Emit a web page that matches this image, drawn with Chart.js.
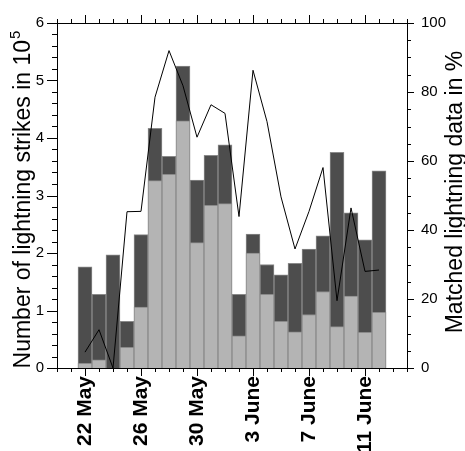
<!DOCTYPE html>
<html>
<head>
<meta charset="utf-8">
<title>Lightning strikes</title>
<script src="https://cdn.jsdelivr.net/npm/chart.js@4/dist/chart.umd.min.js"></script>
<style>
  html, body { margin: 0; padding: 0; background: #fff; }
  canvas { display: block; }
</style>
</head>
<body>
<canvas id="lightningChart" width="465" height="451"></canvas>
<script>
// --- DATA ---
// days counted from 1 May (32 = 1 June)
const days = [22, 23, 24, 25, 26, 27, 28, 29, 30, 31, 32, 33, 34, 35, 36, 37, 38, 39, 40, 41, 42, 43];
// all strikes, in 10^5
const totalStrikes = [1.76, 1.28, 1.97, 0.81, 2.32, 4.17, 3.68, 5.25, 3.27, 3.70, 3.88,
                      1.28, 2.33, 1.80, 1.62, 1.82, 2.07, 2.30, 3.75, 2.70, 2.23, 3.43];
// matched strikes, in 10^5
const matchedStrikes = [0.08, 0.14, 0.00, 0.36, 1.06, 3.26, 3.37, 4.30, 2.18, 2.83, 2.86,
                        0.56, 2.00, 1.28, 0.81, 0.63, 0.93, 1.33, 0.72, 1.25, 0.62, 0.97];
// matched share in %
const matchedPercent = [4.6, 11.1, 0.0, 45.3, 45.4, 78.5, 92.0, 81.8, 66.9, 76.3, 73.8,
                        43.9, 86.3, 71.4, 49.6, 34.5, 45.4, 58.1, 19.5, 46.4, 28.0, 28.4];
const labelledDays = [22, 26, 30, 34, 38, 42];

const FONT = "'Liberation Sans', Arial, Helvetica, sans-serif";

function dayLabel(d) {
    return d <= 31 ? d + ' May' : (d - 31) + ' June';
}

const pts = (arr) => days.map((d, i) => ({ x: d, y: arr[i] }));

// minor/major tick marks on all four sides + top frame line + axis titles
const frameTicks = {
    id: 'frameTicks',
    afterDraw(chart) {
        const { ctx, chartArea: a, scales } = chart;
        const px = (v) => Math.round(v) + 0.5;
        ctx.save();
        ctx.strokeStyle = '#000';
        ctx.lineWidth = 1;

        // top frame line
        ctx.beginPath();
        ctx.moveTo(a.left, px(a.top));
        ctx.lineTo(a.right, px(a.top));
        ctx.stroke();

        ctx.beginPath();
        // x ticks, bottom and top (outward)
        for (let d = scales.x.min; d <= scales.x.max; d++) {
            const x = px(scales.x.getPixelForValue(d));
            const len = labelledDays.includes(d) ? 8 : 4;
            ctx.moveTo(x, a.bottom); ctx.lineTo(x, a.bottom + len);
            ctx.moveTo(x, a.top); ctx.lineTo(x, a.top - len);
        }
        // left y ticks
        for (let k = 0; k <= 30; k++) {
            const y = px(scales.y.getPixelForValue(k * 0.2));
            const len = k % 5 === 0 ? 10 : 5;
            ctx.moveTo(a.left, y); ctx.lineTo(a.left - len, y);
        }
        // right y ticks
        for (let v = 0; v <= 100; v += 5) {
            const y = px(scales.y2.getPixelForValue(v));
            const len = v % 20 === 0 ? 7 : 4;
            ctx.moveTo(a.right, y); ctx.lineTo(a.right + len, y);
        }
        ctx.stroke();

        // axis titles, both reading bottom to top
        ctx.fillStyle = '#000';
        ctx.textBaseline = 'alphabetic';
        const mainFont = '23px ' + FONT;
        const supFont = '15px ' + FONT;

        // left
        ctx.font = mainFont;
        const leftMain = 'Number of lightning strikes in 10';
        const wMain = ctx.measureText(leftMain).width;
        ctx.font = supFont;
        const wSup = ctx.measureText('5').width;
        ctx.save();
        ctx.translate(29.5, 200);
        ctx.rotate(-Math.PI / 2);
        ctx.textAlign = 'left';
        ctx.font = mainFont;
        const start = -(wMain + wSup) / 2;
        ctx.fillText(leftMain, start, 0);
        ctx.font = supFont;
        ctx.fillText('5', start + wMain + 1, -10);
        ctx.restore();

        // right
        ctx.save();
        ctx.translate(462, 192);
        ctx.rotate(-Math.PI / 2);
        ctx.textAlign = 'center';
        ctx.font = mainFont;
        ctx.fillText('Matched lightning data in %', 0, 0);
        ctx.restore();

        ctx.restore();
    }
};

const ctx = document.getElementById('lightningChart').getContext('2d');

new Chart(ctx, {
    type: 'bar',
    data: {
        datasets: [
            {
                type: 'line',
                label: 'Matched (%)',
                data: pts(matchedPercent),
                yAxisID: 'y2',
                borderColor: '#000',
                borderWidth: 1,
                pointRadius: 0,
                tension: 0,
                order: 0
            },
            {
                label: 'Matched strikes',
                data: pts(matchedStrikes),
                yAxisID: 'y',
                backgroundColor: '#b4b4b4',
                borderColor: '#8a8a8a',
                borderWidth: 1,
                grouped: false,
                order: 1
            },
            {
                label: 'All strikes',
                data: pts(totalStrikes),
                yAxisID: 'y',
                backgroundColor: '#4d4d4d',
                borderColor: '#8a8a8a',
                borderWidth: 1,
                grouped: false,
                order: 2
            }
        ]
    },
    options: {
        responsive: false,
        animation: false,
        barPercentage: 1,
        categoryPercentage: 1,
        layout: { padding: { top: 16, left: 0, right: 0, bottom: 0 } },
        plugins: {
            legend: { display: false },
            tooltip: { enabled: false }
        },
        scales: {
            x: {
                type: 'linear',
                min: 20,
                max: 45,
                offset: false,
                grid: { display: false, drawTicks: false },
                border: { display: true, color: '#000', width: 1 },
                ticks: {
                    stepSize: 1,
                    autoSkip: false,
                    minRotation: 90,
                    maxRotation: 90,
                    padding: 8,
                    color: '#000',
                    font: { family: FONT, size: 21, weight: 'bold' },
                    callback: (v) => labelledDays.includes(v) ? dayLabel(v) : ''
                },
                afterFit: (s) => { s.height = 83; }
            },
            y: {
                position: 'left',
                min: 0,
                max: 6,
                grid: { display: false, drawTicks: false },
                border: { display: true, color: '#000', width: 1 },
                ticks: {
                    stepSize: 1,
                    padding: 13,
                    color: '#000',
                    font: { family: FONT, size: 15 }
                },
                afterFit: (s) => { s.width = 57; }
            },
            y2: {
                position: 'right',
                min: 0,
                max: 100,
                grid: { display: false, drawTicks: false },
                border: { display: true, color: '#000', width: 1 },
                ticks: {
                    stepSize: 20,
                    padding: 14,
                    color: '#000',
                    font: { family: FONT, size: 15 }
                },
                afterFit: (s) => { s.width = 58; }
            }
        }
    },
    plugins: [frameTicks]
});
</script>
</body>
</html>
